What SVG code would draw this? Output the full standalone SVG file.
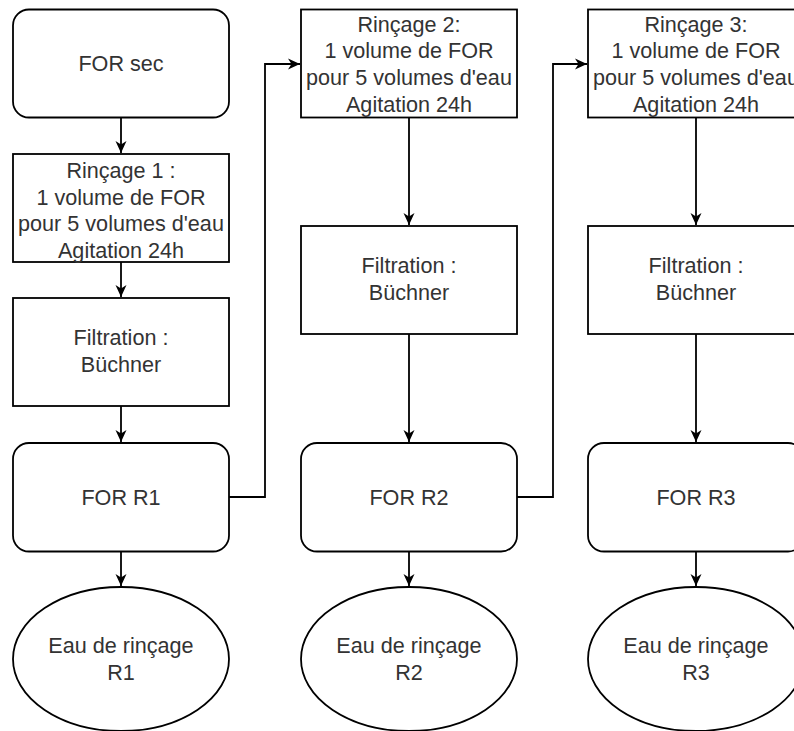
<svg xmlns="http://www.w3.org/2000/svg" width="794" height="731" viewBox="0 0 794 731">
<defs>
<style>
.box{fill:#fff;stroke:#000;stroke-width:1.8}
.t{font-family:"Liberation Sans",Arial,Helvetica,sans-serif;font-size:21.6px;fill:#333;text-anchor:middle}
.edge{fill:none;stroke:#000;stroke-width:1.8}
</style>
<marker id="arr" markerUnits="userSpaceOnUse" markerWidth="14" markerHeight="14" viewBox="0 0 14 12" refX="12" refY="6" orient="auto">
<path d="M0,0.5 L12,6 L0,11.5 L3.5,6 Z" fill="#000"/>
</marker>
</defs>
<rect width="794" height="731" fill="#fff"/>
<g id="connectors">
<path class="edge" d="M121,117 V153" marker-end="url(#arr)"/>
<path class="edge" d="M121,262 V297" marker-end="url(#arr)"/>
<path class="edge" d="M121,406 V442" marker-end="url(#arr)"/>
<path class="edge" d="M121,552 V586" marker-end="url(#arr)"/>
<path class="edge" d="M229,497 H265 V64 H300" marker-end="url(#arr)"/>
<path class="edge" d="M409,117 V225" marker-end="url(#arr)"/>
<path class="edge" d="M409,334 V442" marker-end="url(#arr)"/>
<path class="edge" d="M409,552 V586" marker-end="url(#arr)"/>
<path class="edge" d="M517,497 H553 V64 H587" marker-end="url(#arr)"/>
<path class="edge" d="M696,117 V225" marker-end="url(#arr)"/>
<path class="edge" d="M696,334 V442" marker-end="url(#arr)"/>
<path class="edge" d="M696,552 V586" marker-end="url(#arr)"/>
</g>
<g id="for-sec">
<rect class="box" x="13" y="9.5" width="216" height="108" rx="16"/>
<text class="t" x="121" y="71">FOR sec</text>
</g>
<g id="rincage-1">
<rect class="box" x="13" y="154" width="216" height="108"/>
<text class="t" x="121" y="178">Rinçage 1 :</text>
<text class="t" x="121" y="204.5">1 volume de FOR</text>
<text class="t" x="121" y="231">pour 5 volumes d'eau</text>
<text class="t" x="121" y="257.5">Agitation 24h</text>
</g>
<g id="filtration-1">
<rect class="box" x="13" y="298" width="216" height="108"/>
<text class="t" x="121" y="345">Filtration :</text>
<text class="t" x="121" y="372">Büchner</text>
</g>
<g id="for-r1">
<rect class="box" x="13" y="443" width="216" height="108.5" rx="16"/>
<text class="t" x="121" y="505">FOR R1</text>
</g>
<g id="eau-r1">
<ellipse class="box" cx="121" cy="659" rx="108" ry="72"/>
<text class="t" x="121" y="653">Eau de rinçage</text>
<text class="t" x="121" y="680">R1</text>
</g>
<g id="rincage-2">
<rect class="box" x="301" y="9.5" width="216" height="108"/>
<text class="t" x="409" y="31.5">Rinçage 2:</text>
<text class="t" x="409" y="58.2">1 volume de FOR</text>
<text class="t" x="409" y="84.9">pour 5 volumes d'eau</text>
<text class="t" x="409" y="111.5">Agitation 24h</text>
</g>
<g id="filtration-2">
<rect class="box" x="301" y="226" width="216" height="108"/>
<text class="t" x="409" y="273">Filtration :</text>
<text class="t" x="409" y="300">Büchner</text>
</g>
<g id="for-r2">
<rect class="box" x="301" y="443" width="216" height="108.5" rx="16"/>
<text class="t" x="409" y="505">FOR R2</text>
</g>
<g id="eau-r2">
<ellipse class="box" cx="409" cy="659" rx="108" ry="72"/>
<text class="t" x="409" y="653">Eau de rinçage</text>
<text class="t" x="409" y="680">R2</text>
</g>
<g id="rincage-3">
<rect class="box" x="588" y="9.5" width="216" height="108"/>
<text class="t" x="696" y="31.5">Rinçage 3:</text>
<text class="t" x="696" y="58.2">1 volume de FOR</text>
<text class="t" x="696" y="84.9">pour 5 volumes d'eau</text>
<text class="t" x="696" y="111.5">Agitation 24h</text>
</g>
<g id="filtration-3">
<rect class="box" x="588" y="226" width="216" height="108"/>
<text class="t" x="696" y="273">Filtration :</text>
<text class="t" x="696" y="300">Büchner</text>
</g>
<g id="for-r3">
<rect class="box" x="588" y="443" width="216" height="108.5" rx="16"/>
<text class="t" x="696" y="505">FOR R3</text>
</g>
<g id="eau-r3">
<ellipse class="box" cx="696" cy="659" rx="108" ry="72"/>
<text class="t" x="696" y="653">Eau de rinçage</text>
<text class="t" x="696" y="680">R3</text>
</g>
</svg>
